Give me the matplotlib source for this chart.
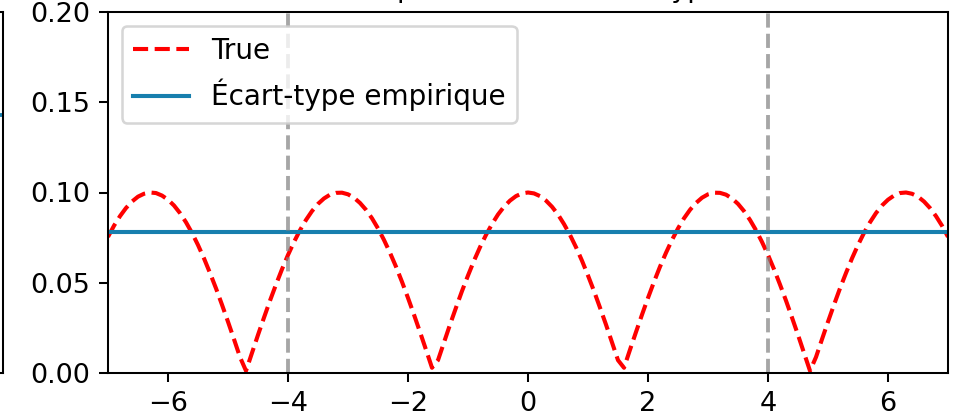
import numpy as np
import matplotlib
matplotlib.use("Agg")
import matplotlib.pyplot as plt

# ---- data ----
x_true = np.round(np.arange(-7.0, 7.0001, 0.1), 1)
y_true = [
    0.0754, 0.0816, 0.0869, 0.0914, 0.0950, 0.0977, 0.0993, 0.1000, 0.0997, 0.0983,
    0.0960, 0.0928, 0.0886, 0.0835, 0.0776, 0.0709, 0.0635, 0.0554, 0.0469, 0.0378,
    0.0284, 0.0187, 0.0088, 0.0012, 0.0112, 0.0211, 0.0307, 0.0401, 0.0490, 0.0575,
    0.0654, 0.0726, 0.0791, 0.0848, 0.0897, 0.0937, 0.0967, 0.0988, 0.0998, 0.0999,
    0.0990, 0.0971, 0.0942, 0.0904, 0.0857, 0.0801, 0.0737, 0.0666, 0.0589, 0.0505,
    0.0416, 0.0323, 0.0227, 0.0129, 0.0029, 0.0071, 0.0170, 0.0268, 0.0362, 0.0454,
    0.0540, 0.0622, 0.0697, 0.0765, 0.0825, 0.0878, 0.0921, 0.0955, 0.0980, 0.0995,
    0.1000, 0.0995, 0.0980, 0.0955, 0.0921, 0.0878, 0.0825, 0.0765, 0.0697, 0.0622,
    0.0540, 0.0454, 0.0362, 0.0268, 0.0170, 0.0071, 0.0029, 0.0129, 0.0227, 0.0323,
    0.0416, 0.0505, 0.0589, 0.0666, 0.0737, 0.0801, 0.0857, 0.0904, 0.0942, 0.0971,
    0.0990, 0.0999, 0.0998, 0.0988, 0.0967, 0.0937, 0.0897, 0.0848, 0.0791, 0.0726,
    0.0654, 0.0575, 0.0490, 0.0401, 0.0307, 0.0211, 0.0112, 0.0012, 0.0088, 0.0187,
    0.0284, 0.0378, 0.0469, 0.0554, 0.0635, 0.0709, 0.0776, 0.0835, 0.0886, 0.0928,
    0.0960, 0.0983, 0.0997, 0.1000, 0.0993, 0.0977, 0.0950, 0.0914, 0.0869, 0.0816,
    0.0754,
]
std_empirique = 0.078
bornes = [-4, 4]
left_panel_value = 0.143
title = "Comparaison de l'écart-type"
legend_labels = ["True", "Écart-type empirique"]

DPI = 184
plt.rcParams["font.size"] = 10.6
fig = plt.figure(figsize=(961 / DPI, 417 / DPI), dpi=DPI)

bottom = 44 / 417
height = 361 / 417

# partial neighbouring panel (mostly off-canvas)
ax0 = fig.add_axes([-0.5, bottom, 0.5 + 3 / 961, height])
ax0.plot([0, 1], [left_panel_value, left_panel_value], color="#177fae")
ax0.set_xlim(0, 1)
ax0.set_ylim(0, 0.2)
ax0.set_xticks([])
ax0.set_yticks([])

ax = fig.add_axes([108 / 961, bottom, 840 / 961, height])
ax.plot(x_true, y_true, "r--", lw=1.6, label=legend_labels[0])
ax.axhline(std_empirique, color="#177fae", lw=1.6, label=legend_labels[1])
for b in bornes:
    ax.axvline(b, color="gray", linestyle="--", alpha=0.7)
ax.set_xlim(-7, 7)
ax.set_ylim(0, 0.2)
ax.set_yticks([0.0, 0.05, 0.10, 0.15, 0.20])
ax.set_title(title, fontsize=10.6)
ax.legend(loc="upper left", fontsize=10.9)

fig.savefig("out.png", dpi=DPI)
